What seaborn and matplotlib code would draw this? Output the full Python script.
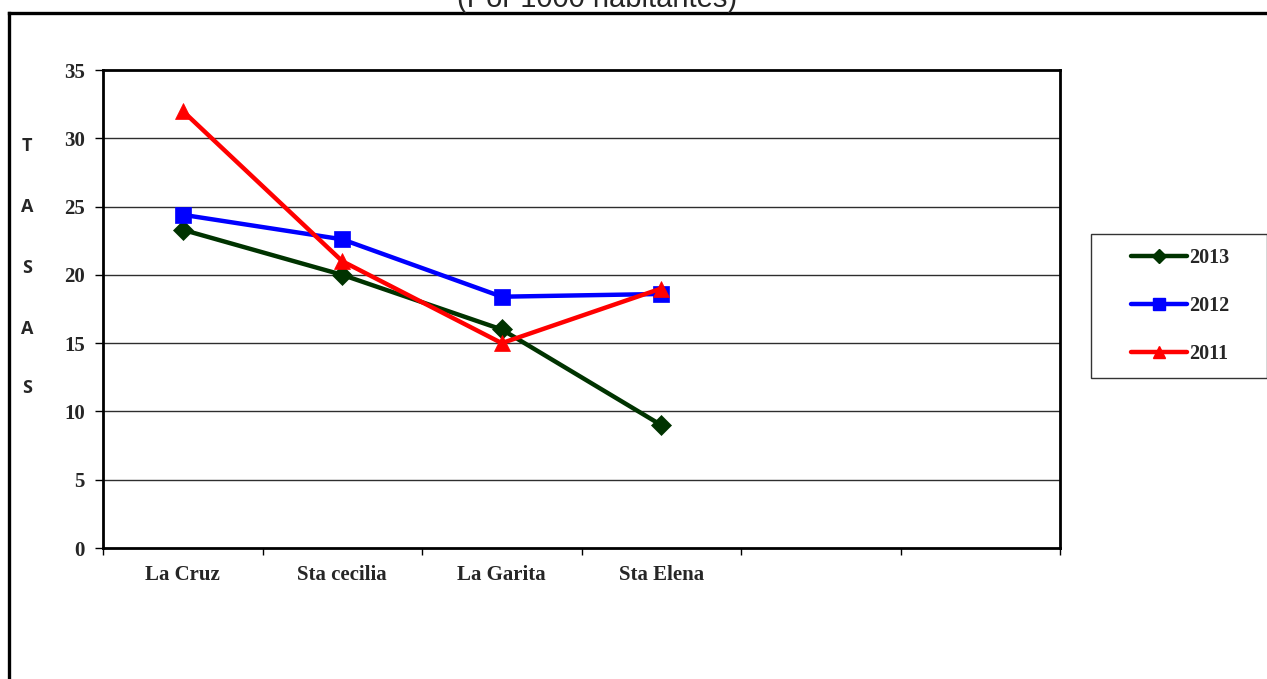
import matplotlib
matplotlib.use("Agg")
import matplotlib.pyplot as plt
from matplotlib.lines import Line2D
from matplotlib.patches import Rectangle
import seaborn as sns
import numpy as np

# Data: tasas por 1000 habitantes
categories = ["La Cruz", "Sta cecilia", "La Garita", "Sta Elena"]
n_slots = 6
years = ["2013", "2012", "2011"]
values_2013 = [23.3, 20.0, 16.0, 9.0]
values_2012 = [24.4, 22.6, 18.4, 18.6]
values_2011 = [32.0, 21.0, 15.0, 19.0]
y_ticks = [0, 5, 10, 15, 20, 25, 30, 35]
title_text = "(Por 1000 habitantes)"
ylabel_letters = ["T", "A", "S", "A", "S"]

series = {"2013": values_2013, "2012": values_2012, "2011": values_2011}
colors = {"2013": "#003300", "2012": "#0000FF", "2011": "#FF0000"}
markers = {"2013": "D", "2012": "s", "2011": "^"}
msizes = {"2013": 10, "2012": 11.5, "2011": 12}

sns.set_style("white")
plt.rcParams["font.family"] = ["Liberation Serif", "DejaVu Serif"]

W, H = 1267, 679
fig = plt.figure(figsize=(W / 100, H / 100), dpi=100)
fig.patch.set_facecolor("white")
ax = fig.add_axes([103 / W, 1 - 548 / H, (1060 - 103) / W, (548 - 70) / H])

x = np.arange(len(categories))
for yr in years:
    sns.lineplot(x=x, y=series[yr], ax=ax, color=colors[yr], linewidth=3.2,
                 marker=markers[yr], markersize=msizes[yr],
                 markeredgecolor=colors[yr], markerfacecolor=colors[yr],
                 markeredgewidth=0.5, label=yr, legend=False, zorder=3)

# Axis limits and ticks
ax.set_xlim(-0.5, n_slots - 0.5)
ax.set_ylim(0, 35)
ax.set_yticks(y_ticks)
ax.set_yticklabels([str(v) for v in y_ticks], fontsize=15, fontweight="bold")
ax.set_xticks(np.arange(n_slots + 1) - 0.5)
ax.set_xticklabels([])
ax.set_xticks(x, minor=True)
ax.set_xticklabels(categories, minor=True, fontsize=15, fontweight="bold")
ax.tick_params(axis="x", which="major", direction="out", length=5, width=1,
               color="black", bottom=True)
ax.tick_params(axis="x", which="minor", length=0, pad=12.5)
ax.tick_params(axis="y", direction="out", length=6, width=1, color="black",
               left=True, pad=7)
ax.set_xlabel("")
ax.set_ylabel("")

# Horizontal gridlines
ax.grid(False)
for v in y_ticks[1:-1]:
    ax.axhline(v, color="#2e2e2e", linewidth=1.0, zorder=1)

for side in ["top", "right", "bottom", "left"]:
    ax.spines[side].set_visible(True)
    ax.spines[side].set_color("black")
    ax.spines[side].set_linewidth(2.0)

# Legend inside its own box on the right
fig.add_artist(Rectangle((1091 / W, 1 - 378 / H), (1267 - 1091) / W, (378 - 234) / H,
                         transform=fig.transFigure, facecolor="white",
                         edgecolor="#333333", linewidth=1.0))
handles = [Line2D([0], [0], color=colors[yr], linewidth=3.2, marker=markers[yr],
                  markersize=msizes[yr] * 0.75, markerfacecolor=colors[yr],
                  markeredgecolor=colors[yr]) for yr in years]
fig.legend(handles, years, loc="center left",
           bbox_to_anchor=(1131 / W, 1 - 306 / H), frameon=False,
           prop={"family": ["Liberation Serif"], "weight": "bold", "size": 14.5},
           handlelength=2.8, handletextpad=0.1, labelspacing=1.4,
           borderpad=0, borderaxespad=0)

# Title, partly above the frame
fig.text(597 / W, 1 - 7 / H, title_text, ha="center", va="baseline",
         fontsize=21, family=["Liberation Sans", "DejaVu Sans"])

# Vertical letters of the axis title
letter_y = [146, 207, 268, 329, 388]
for letter, yy in zip(ylabel_letters, letter_y):
    fig.text(27 / W, 1 - yy / H, letter, ha="center", va="center",
             fontsize=13, fontweight="bold",
             family=["Open Sans", "Liberation Sans", "DejaVu Sans"])

# Outer chart frame (left and top edges)
fig.add_artist(Line2D([8.5 / W, 8.5 / W], [0, 1 - 13 / H], transform=fig.transFigure,
                      color="black", linewidth=2.4, solid_capstyle="projecting"))
fig.add_artist(Line2D([8.5 / W, 1.0], [1 - 13 / H, 1 - 13 / H], transform=fig.transFigure,
                      color="black", linewidth=2.4, solid_capstyle="projecting"))

fig.savefig("out.png", dpi=100, facecolor="white")
